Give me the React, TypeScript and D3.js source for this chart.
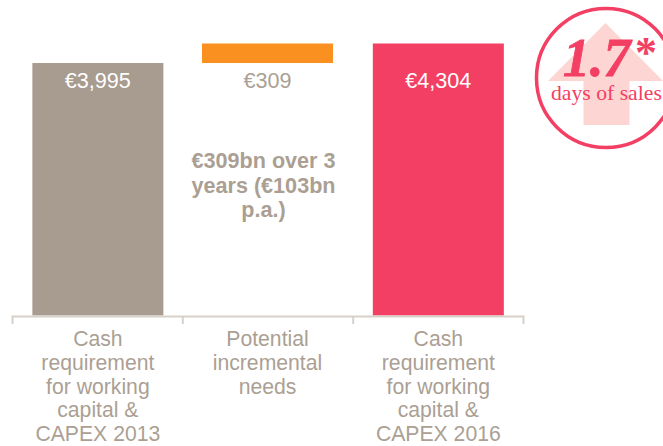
import React from "react";
import * as d3 from "d3";

const categories = ["2013", "incremental", "2016"];
const barStarts = [0, 3995, 0];
const barEnds = [3995, 4304, 4304];
const valueLabels = ["€3,995", "€309", "€4,304"];
const barColors = ["#a89b8f", "#fa9020", "#f33f63"];
const labelColors = ["#ffffff", "#ab9f94", "#ffffff"];
const categoryLines = [
  ["Cash", "requirement", "for working", "capital &", "CAPEX 2013"],
  ["Potential", "incremental", "needs"],
  ["Cash", "requirement", "for working", "capital &", "CAPEX 2016"],
];
const noteLines = ["€309bn over 3", "years (€103bn", "p.a.)"];
const calloutValue = "1.7";
const calloutUnit = "days of sales";

const sans = "'Liberation Sans', Arial, sans-serif";
const serif = "'Liberation Serif', 'DejaVu Serif', serif";
const grey = "#ab9f94";
const pink = "#f33f63";

export default function App() {
  const x = d3.scaleBand<string>().domain(categories).range([12.5, 523.5]).paddingInner(0).paddingOuter(0);
  const y = d3.scaleLinear().domain([0, 4304]).range([315.5, 43.5]);
  const barW = 131;
  const arrow = d3.line()([
    [605.5, 23], [663, 81], [629.5, 81], [629.5, 125], [583.5, 125], [583.5, 81], [548, 81],
  ]) + "Z";
  return (
    <svg width={663} height={446} style={{ position: "absolute", left: 0, top: 0, display: "block" }}>
      {categories.map((c, i) => {
        const cx = x(c)! + x.bandwidth() / 2 + (i === 1 ? -0.5 : i === 0 ? 0.2 : 0);
        const top = y(barEnds[i]);
        const bottom = y(barStarts[i]);
        return (
          <g key={c}>
            <rect x={cx - barW / 2} y={top} width={barW} height={bottom - top} fill={barColors[i]} />
            <text x={cx} y={88} textAnchor="middle" fontFamily={sans} fontSize={21.6} fill={labelColors[i]}>
              {valueLabels[i]}
            </text>
            {categoryLines[i].map((l, j) => (
              <text key={j} x={cx} y={346 + j * 23.8} textAnchor="middle" fontFamily={sans} fontSize={21.2} fill={grey}>
                {l}
              </text>
            ))}
          </g>
        );
      })}
      <path
        d={`M${x.range()[0]},324V316.5H${x.range()[1]}V324`}
        fill="none"
        stroke="#d8d1ca"
        strokeWidth={2}
      />
      {categories.slice(1).map((c) => (
        <line key={c} x1={x(c)!} x2={x(c)!} y1={316} y2={324} stroke="#d8d1ca" strokeWidth={2} />
      ))}
      {noteLines.map((l, j) => (
        <text key={j} x={263.5} y={168 + j * 24.5} textAnchor="middle" fontFamily={sans} fontSize={21.6} fontWeight="bold" fill={grey}>
          {l}
        </text>
      ))}
      <path d={arrow} fill="#fdd5d3" />
      <circle cx={606} cy={78} r={69.5} fill="none" stroke={pink} strokeWidth={3.5} />
      <text x={563} y={76} fontFamily={serif} fontSize={54} fontWeight="bold" fontStyle="italic" fill={pink} stroke={pink} strokeWidth={0.8}>
        {calloutValue}
      </text>
      <text x={635} y={67} fontFamily={serif} fontSize={44} fontWeight="bold" fill={pink}>
        *
      </text>
      <text x={551} y={100} fontFamily={serif} fontSize={21.7} fill={pink}>
        {calloutUnit}
      </text>
    </svg>
  );
}
